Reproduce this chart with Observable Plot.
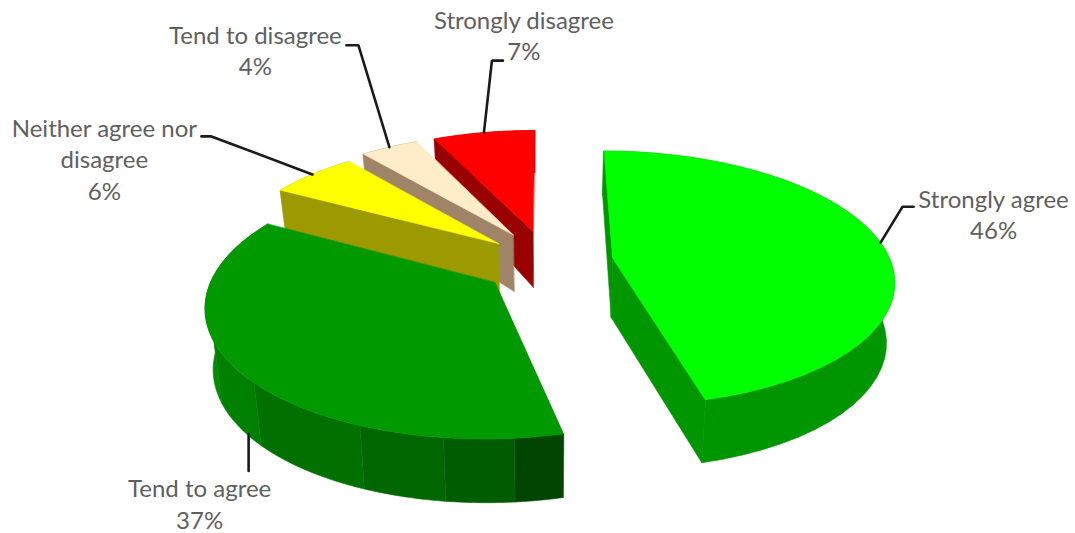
<!DOCTYPE html>
<html>
<head>
<meta charset="utf-8">
<script src="https://cdn.jsdelivr.net/npm/d3@7"></script>
<script src="https://cdn.jsdelivr.net/npm/@observablehq/plot@0.6"></script>
<style>html,body{margin:0;padding:0;background:#fff}svg{display:block}</style>
</head>
<body>
<div id="chart"></div>
<script>
// Data, clockwise from 12 o'clock
const categories = ["Strongly agree", "Tend to agree", "Neither agree nor\ndisagree", "Tend to disagree", "Strongly disagree"];
const percents = [46, 37, 6, 4, 7];
const topColors = ["#00ff00", "#009900", "#ffff00", "#ffecc8", "#ff0000"];
const wallColors = ["#009600", "#008c00", "#9c9a00", "#a08468", "#990000"];
// Shaded rim bands of "Tend to agree": upper limit in degrees and colour
const rimLimits = [175, 187, 202, 227, 245, 299];
const rimShades = ["#004600", "#005c00", "#006600", "#007000", "#008000", "#008c00"];

// Layout: pixel nudges per slice, start-angle trim, and offsets from each slice's rim anchor
const sliceNudges = [[1, 0], [-2, 3], [-2, 0], [-2, -3], [-2, -3]];
const startTrims = [0, 1, 0, 0, 0];
const anchorNudges = [[0, 0], [2, 0], [0, 0], [0, 0], [0, 0]];
const elbowOffsets = [[22, -36], [0, 37], [-101, -38], [-31, -102], [8, -72]];
const stubLengths = [11, 0, -10, -12, 11];
const labelOffsets = [[113, -29], [-49, 69], [-208, -16], [-134, -98], [40, -98]];

// Camera
const W = 1075, H = 533, CX = 548, CY = 261, KX = 278, KY = 125;
const persp = 0.16, explode = 0.23, depth = 60, converge = 0.024;
const rad = d => d * Math.PI / 180;

function project(gx, gy, down, nudge) {
  const w = 1 / (1 + persp * gy);
  const h = down * Math.pow(w, w < 1 ? 2 : 0.3);
  return {
    x: gx * w * (1 - converge * down / depth) + nudge[0] / KX,
    y: gy * w - (h + nudge[1]) / KY
  };
}

// Slice angles
let acc = 0;
const slices = categories.map((name, i) => {
  const start = acc * 3.6; acc += percents[i]; const a1 = acc * 3.6;
  const mid = rad((start + a1) / 2);
  return {name, i, a0: start + startTrims[i], a1, ox: explode * Math.sin(mid), oy: explode * Math.cos(mid), mid: (start + a1) / 2};
});
const rimPoint = (s, deg, down = 0) => project(s.ox + Math.sin(rad(deg)), s.oy + Math.cos(rad(deg)), down, sliceNudges[s.i]);
const apex = (s, down = 0) => project(s.ox, s.oy, down, sliceNudges[s.i]);
const arc = (s, a, b, down = 0) => d3.range(0, 41).map(t => rimPoint(s, a + (b - a) * t / 40, down));

const faces = [];
const addFace = (id, fill, pts) => pts.forEach(p => faces.push({id, fill, x: p.x, y: p.y}));

// Painter's order: far slices first
[4, 3, 2, 1, 0].forEach(i => {
  const s = slices[i];
  const wall = wallColors[i];
  addFace(`w0${i}`, wall, [apex(s), rimPoint(s, s.a0), rimPoint(s, s.a0, depth), apex(s, depth)]);
  if (i === 0) addFace(`w1${i}`, wall, [apex(s), rimPoint(s, s.a1), rimPoint(s, s.a1, depth), apex(s, depth)]);
  if (i === 1) {
    let from = s.a0;
    rimLimits.forEach((to, b) => {
      addFace(`r${i}-${b}`, rimShades[b], [...arc(s, from, to), ...arc(s, from, to, depth).reverse()]);
      from = to;
    });
  } else {
    addFace(`r${i}`, wall, [...arc(s, s.a0, s.a1), ...arc(s, s.a0, s.a1, depth).reverse()]);
  }
  addFace(`t${i}`, topColors[i], [apex(s), ...arc(s, s.a0, s.a1)]);
});

// Leader lines and labels are anchored on each slice's mid-angle rim point
const shift = (p, dx, dy) => ({x: p.x + dx / KX, y: p.y - dy / KY});
const anchors = slices.map(s => shift(rimPoint(s, s.mid, s.i === 1 ? depth : 0), ...anchorNudges[s.i]));
const leaders = [];
const labels = [];
anchors.forEach((a, i) => {
  const e = shift(a, ...elbowOffsets[i]);
  [a, e, shift(e, stubLengths[i], 0)].forEach(p => leaders.push({i, ...p}));
  labels.push({...shift(a, ...labelOffsets[i]), text: `${categories[i]}\n${percents[i]}%`});
});

const chart = Plot.plot({
  width: W, height: H,
  margin: 0,
  x: {domain: [-1, 1], range: [CX - KX, CX + KX], axis: null},
  y: {domain: [-1, 1], range: [CY + KY, CY - KY], axis: null},
  color: {type: "identity"},
  marks: [
    Plot.line(faces, {x: "x", y: "y", z: "id", fill: "fill", stroke: "fill", strokeWidth: 0.6, curve: "linear-closed"}),
    Plot.line(leaders, {x: "x", y: "y", z: "i", stroke: "#1a1a1a", strokeWidth: 2.6, strokeLinejoin: "miter"}),
    Plot.text(labels, {x: "x", y: "y", text: "text", fill: "#5f5f5f", fontSize: 24, lineHeight: 1.3, textAnchor: "middle", lineAnchor: "middle", fontFamily: "Lato"})
  ]
});
chart.style.background = "#fff";
document.getElementById("chart").append(chart);
</script>
</body>
</html>
